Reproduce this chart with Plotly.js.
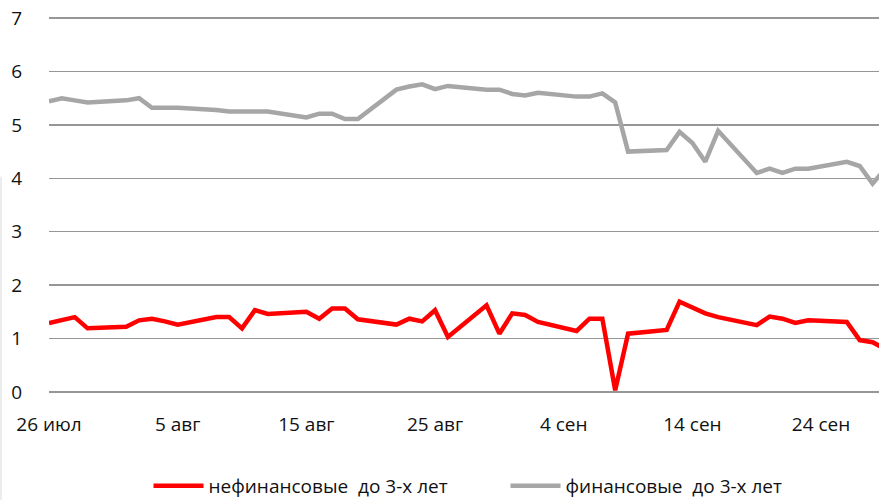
<!DOCTYPE html>
<html>
<head>
<meta charset="utf-8">
<script src="https://cdn.plot.ly/plotly-3.0.1.min.js"></script>
<style>html,body{margin:0;padding:0;background:#fff;}#chart{width:879px;height:500px;}</style>
</head>
<body>
<div id="chart"></div>
<script>
// Business days, 2016
const dates = [
  "2016-07-26","2016-07-27","2016-07-28","2016-07-29",
  "2016-08-01","2016-08-02","2016-08-03","2016-08-04","2016-08-05",
  "2016-08-08","2016-08-09","2016-08-10","2016-08-11","2016-08-12",
  "2016-08-15","2016-08-16","2016-08-17","2016-08-18","2016-08-19",
  "2016-08-22","2016-08-23","2016-08-24","2016-08-25","2016-08-26",
  "2016-08-29","2016-08-30","2016-08-31","2016-09-01","2016-09-02",
  "2016-09-05","2016-09-06","2016-09-07","2016-09-08","2016-09-09",
  "2016-09-12","2016-09-13","2016-09-14","2016-09-15","2016-09-16",
  "2016-09-19","2016-09-20","2016-09-21","2016-09-22","2016-09-23",
  "2016-09-26","2016-09-27","2016-09-28","2016-09-29"
];
const nonFinancial = [
  1.29,1.34,1.40,1.19,
  1.22,1.34,1.37,1.32,1.26,
  1.40,1.40,1.19,1.53,1.46,
  1.50,1.37,1.56,1.56,1.36,
  1.26,1.37,1.32,1.53,1.03,
  1.62,1.09,1.47,1.44,1.31,
  1.14,1.37,1.37,0.03,1.09,
  1.16,1.69,1.58,1.47,1.40,
  1.25,1.41,1.37,1.29,1.34,
  1.31,0.97,0.93,0.80
];
const financial = [
  5.44,5.50,5.46,5.42,
  5.46,5.50,5.32,5.32,5.32,
  5.28,5.25,5.25,5.25,5.25,
  5.14,5.21,5.21,5.11,5.11,
  5.66,5.72,5.76,5.67,5.73,
  5.66,5.66,5.58,5.55,5.60,
  5.53,5.53,5.59,5.42,4.50,
  4.53,4.87,4.66,4.31,4.89,
  4.10,4.18,4.10,4.18,4.18,
  4.31,4.23,3.90,4.18
];
const seriesNames = ["нефинансовые  до 3-х лет", "финансовые  до 3-х лет"];
const tickDates = ["2016-07-26","2016-08-05","2016-08-15","2016-08-25","2016-09-04","2016-09-14","2016-09-24"];
const tickLabels = ["26 июл","5 авг","15 авг","25 авг","4 сен","14 сен","24 сен"];
const yTicks = [0,1,2,3,4,5,6,7];

const FONT = "Open Sans, Noto Sans, sans-serif";

const traces = [
  {x: dates, y: nonFinancial, name: seriesNames[0], type: "scatter", mode: "lines",
   line: {color: "#ff0000", width: 4.5}},
  {x: dates, y: financial, name: seriesNames[1], type: "scatter", mode: "lines",
   line: {color: "#a6a6a6", width: 4.5}}
];

const layout = {
  width: 879, height: 500,
  margin: {l: 49, r: 0, t: 16, b: 106, pad: 0},
  paper_bgcolor: "#ffffff", plot_bgcolor: "#ffffff",
  font: {family: FONT, size: 18, color: "#111111"},
  showlegend: true,
  legend: {orientation: "h", x: 0.55, xanchor: "center", yref: "container", y: 0.028, yanchor: "middle",
           font: {family: FONT, size: 19, color: "#111111"}, itemwidth: 50,
           entrywidth: 292, entrywidthmode: "pixels"},
  xaxis: {type: "date", range: ["2016-07-26", "2016-09-28 12:00"],
          tickmode: "array", tickvals: tickDates, ticktext: tickLabels,
          showgrid: false, zeroline: false, showline: false,
          ticks: "outside", ticklen: 13, tickcolor: "rgba(0,0,0,0)",
          tickfont: {family: FONT, size: 19, color: "#111111"}},
  yaxis: {range: [-0.04, 7.04], tickmode: "array", tickvals: yTicks,
          showgrid: true, gridcolor: "#969696", gridwidth: 1.3, zeroline: false, showline: false,
          ticks: "outside", ticklen: 22, tickcolor: "rgba(0,0,0,0)",
          tickfont: {family: FONT, size: 19, color: "#111111"}},
  shapes: [{type: "line", xref: "paper", yref: "paper",
            x0: -0.0578, x1: -0.0578, y0: 0.575, y1: -0.29,
            line: {color: "#d9d9d9", width: 1}}]
};

Plotly.newPlot("chart", traces, layout, {displayModeBar: false, staticPlot: true});
</script>
</body>
</html>
